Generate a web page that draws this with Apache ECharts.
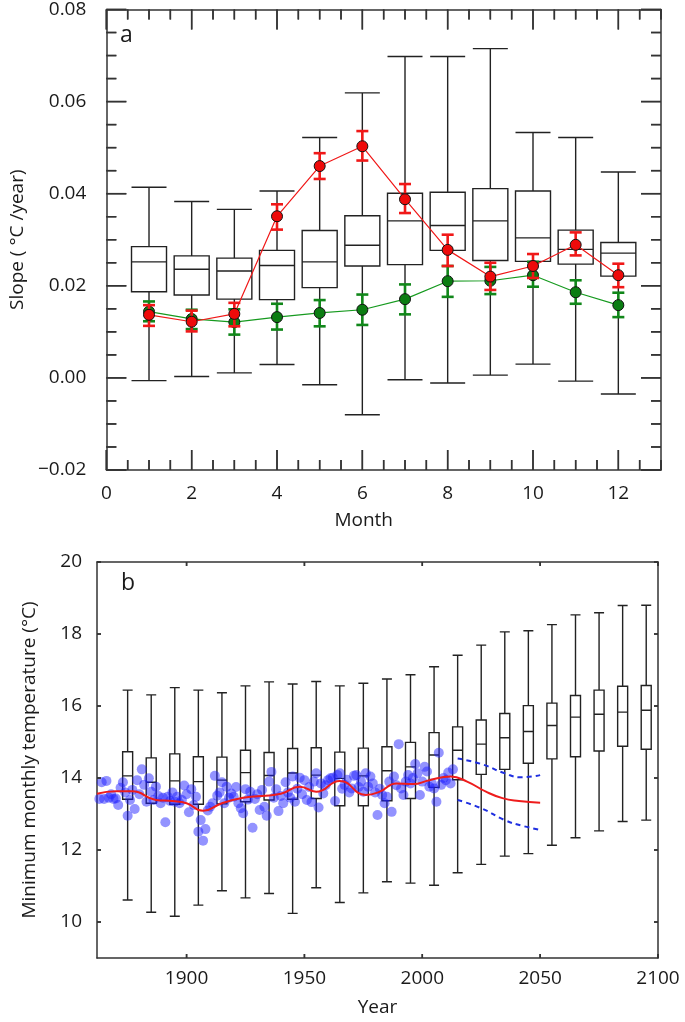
<!DOCTYPE html>
<html>
<head>
<meta charset="utf-8">
<script src="https://cdn.jsdelivr.net/npm/echarts@6/dist/echarts.min.js"></script>
<style>
  html, body { margin: 0; padding: 0; background: #ffffff; }
  #chart { width: 685px; height: 1022px; background: #ffffff; }
</style>
</head>
<body>
<div id="chart"></div>
<script>
// ---- panel a: monthly slopes ----
const months = [1, 2, 3, 4, 5, 6, 7, 8, 9, 10, 11, 12]
const boxMin = [-0.0006, 0.0003, 0.0011, 0.0029, -0.0015, -0.0080, -0.0004, -0.0011, 0.0006, 0.0030, -0.0007, -0.0035]
const boxQ1 = [0.0187, 0.0180, 0.0171, 0.0170, 0.0196, 0.0243, 0.0246, 0.0277, 0.0255, 0.0253, 0.0247, 0.0221]
const boxMed = [0.0252, 0.0236, 0.0232, 0.0244, 0.0252, 0.0288, 0.0341, 0.0331, 0.0341, 0.0304, 0.0279, 0.0271]
const boxQ3 = [0.0285, 0.0265, 0.0260, 0.0277, 0.0320, 0.0352, 0.0401, 0.0403, 0.0411, 0.0406, 0.0321, 0.0294]
const boxMax = [0.0414, 0.0383, 0.0366, 0.0406, 0.0522, 0.0619, 0.0698, 0.0698, 0.0715, 0.0533, 0.0522, 0.0447]

const redSlope = [0.0137, 0.0122, 0.0139, 0.0351, 0.0460, 0.0503, 0.0388, 0.0278, 0.0220, 0.0243, 0.0289, 0.0223]
const redLow = [0.0113, 0.0101, 0.0112, 0.0322, 0.0432, 0.0472, 0.0358, 0.0243, 0.0191, 0.0217, 0.0266, 0.0197]
const redHigh = [0.0158, 0.0146, 0.0163, 0.0377, 0.0488, 0.0536, 0.0421, 0.0311, 0.0250, 0.0269, 0.0316, 0.0248]
const greenSlope = [0.0144, 0.0128, 0.0121, 0.0132, 0.0141, 0.0148, 0.0171, 0.0210, 0.0211, 0.0223, 0.0186, 0.0158]
const greenLow = [0.0123, 0.0106, 0.0094, 0.0105, 0.0112, 0.0115, 0.0138, 0.0176, 0.0182, 0.0198, 0.0161, 0.0132]
const greenHigh = [0.0166, 0.0148, 0.0149, 0.0161, 0.0169, 0.0181, 0.0203, 0.0243, 0.0241, 0.0252, 0.0212, 0.0185]

const monthTicks = [0, 2, 4, 6, 8, 10, 12]
const monthMinor = [1, 3, 5, 7, 9, 11, 13, 0.5, 1.5, 2.5, 3.5, 4.5, 5.5, 6.5, 7.5, 8.5, 9.5, 10.5, 11.5, 12.5]
const slopeTicks = [-0.02, 0, 0.02, 0.04, 0.06, 0.08]
const slopeMinor = [-0.015, -0.01, -0.005, 0.005, 0.01, 0.015, 0.025, 0.03, 0.035, 0.045, 0.05, 0.055,
  0.065, 0.07, 0.075]

// ---- panel b: minimum monthly temperature ----
const boxYears = [1875, 1885, 1895, 1905, 1915, 1925, 1935, 1945, 1955, 1965, 1975, 1985,
  1995, 2005, 2015, 2025, 2035, 2045, 2055, 2065, 2075, 2085, 2095]
const tMin = [10.61, 10.27, 10.16, 10.47, 10.87, 10.67, 10.79, 10.24, 10.95, 10.54, 10.81, 11.12,
  11.08, 11.02, 11.37, 11.60, 11.83, 11.90, 12.13, 12.34, 12.53, 12.79, 12.83]
const tQ1 = [13.41, 13.30, 13.27, 13.27, 13.28, 13.34, 13.39, 13.41, 13.43, 13.23, 13.23, 13.37,
  13.43, 13.74, 13.95, 14.10, 14.24, 14.41, 14.53, 14.59, 14.75, 14.88, 14.80]
const tMed = [14.06, 13.88, 13.92, 13.90, 13.94, 14.15, 14.07, 14.14, 14.08, 13.99, 14.06, 14.20,
  14.31, 14.64, 14.77, 14.94, 15.12, 15.29, 15.46, 15.69, 15.77, 15.83, 15.88]
const tQ3 = [14.73, 14.56, 14.67, 14.59, 14.58, 14.77, 14.71, 14.82, 14.84, 14.72, 14.83, 14.87,
  14.99, 15.26, 15.42, 15.61, 15.79, 16.01, 16.08, 16.29, 16.44, 16.55, 16.57]
const tMax = [16.44, 16.31, 16.51, 16.44, 16.37, 16.56, 16.67, 16.61, 16.68, 16.56, 16.63, 16.75,
  16.87, 17.09, 17.41, 17.69, 18.06, 18.09, 18.26, 18.53, 18.59, 18.79, 18.80]

const obsYears = [
  1863, 1864, 1865, 1866, 1867, 1868, 1869, 1870, 1871, 1872, 1873, 1874, 1875, 1876, 1877, 1878, 1879, 1880,
  1881, 1882, 1883, 1884, 1885, 1886, 1887, 1888, 1889, 1890, 1891, 1892, 1893, 1894, 1895, 1896, 1897, 1898,
  1899, 1900, 1901, 1902, 1903, 1904, 1905, 1906, 1907, 1908, 1909, 1910, 1911, 1912, 1913, 1914, 1915, 1916,
  1917, 1918, 1919, 1920, 1921, 1922, 1923, 1924, 1925, 1926, 1927, 1928, 1929, 1930, 1931, 1932, 1933, 1934,
  1935, 1936, 1937, 1938, 1939, 1940, 1941, 1942, 1943, 1944, 1945, 1946, 1947, 1948, 1949, 1950, 1951, 1952,
  1953, 1954, 1955, 1956, 1957, 1958, 1959, 1960, 1961, 1962, 1963, 1964, 1965, 1966, 1967, 1968, 1969, 1970,
  1971, 1972, 1973, 1974, 1975, 1976, 1977, 1978, 1979, 1980, 1981, 1982, 1983, 1984, 1985, 1986, 1987, 1988,
  1989, 1990, 1991, 1992, 1993, 1994, 1995, 1996, 1997, 1998, 1999, 2000, 2001, 2002, 2003, 2004, 2005, 2006,
  2007, 2008, 2009, 2010, 2011, 2012, 2013]
const obsTemp = [
  13.42, 13.88, 13.42, 13.92, 13.45, 13.55, 13.42, 13.43, 13.25, 13.73, 13.88, 13.60, 12.95, 13.39, 13.67, 13.14, 13.94, 13.55,
  14.24, 13.81, 13.34, 13.99, 13.62, 13.39, 13.76, 13.50, 13.30, 13.45, 12.77, 13.48, 13.36, 13.60, 13.34, 13.48, 13.30, 13.39,
  13.79, 13.55, 13.05, 13.69, 13.25, 13.48, 12.51, 12.83, 12.26, 12.58, 13.10, 13.20, 13.30, 14.06, 13.51, 13.60, 13.88, 13.30,
  13.76, 13.45, 13.57, 13.48, 13.75, 13.30, 13.16, 13.02, 13.69, 13.40, 13.62, 12.62, 13.42, 13.55, 13.11, 13.67, 13.20, 12.95,
  13.90, 14.17, 13.45, 13.69, 13.08, 13.50, 13.30, 13.88, 13.60, 13.45, 14.04, 13.34, 13.70, 14.01, 13.55, 13.94, 13.39, 13.75,
  13.33, 13.90, 14.13, 13.18, 13.85, 13.57, 13.80, 13.94, 13.99, 14.01, 13.36, 14.08, 14.13, 13.70, 13.81, 13.95, 13.60, 13.71,
  14.06, 14.08, 13.75, 13.90, 13.62, 14.13, 13.76, 14.04, 13.85, 13.60, 12.97, 13.70, 13.53, 13.30, 13.48, 13.90, 13.06, 14.04,
  13.80, 14.94, 13.71, 13.53, 13.90, 14.08, 13.85, 14.00, 14.39, 14.13, 13.53, 13.90, 14.31, 14.18, 13.76, 13.85, 13.71, 13.34,
  14.70, 13.81, 14.00, 13.94, 14.15, 13.85, 14.24]

const smoothYears = [1862, 1870, 1877, 1887, 1894, 1900, 1907, 1915, 1924, 1932, 1940, 1948, 1955,
  1965, 1976, 1982, 1989, 1996, 2003, 2012, 2019, 2027, 2034, 2041, 2050]
const smoothTemp = [13.56, 13.63, 13.63, 13.39, 13.36, 13.30, 13.09, 13.30, 13.45, 13.50, 13.56, 13.76, 13.62,
  13.92, 13.53, 13.62, 13.85, 13.83, 13.94, 14.04, 13.90, 13.62, 13.44, 13.36, 13.31]
const bandYears = [2015, 2025, 2035, 2042, 2050]
const bandUpper = [14.54, 14.39, 14.13, 14.02, 14.08]
const bandLower = [13.39, 13.16, 12.83, 12.68, 12.56]

const yearTicks = [1900, 1950, 2000, 2050, 2100]
const tempTicks = [10, 12, 14, 16, 18, 20]

const FONT = 'Open Sans'
const INK = '#1a1a1a'
const FRAME = '#333333'

// inward tick marks on both opposite frame sides, per grid
const tickSpec = [
  { grid: 0, xr: [0, 13], yr: [-0.02, 0.08], xs: monthTicks, ys: slopeTicks, len: 20 },
  { grid: 0, xr: [0, 13], yr: [-0.02, 0.08], xs: monthMinor, ys: slopeMinor, len: 10 },
  { grid: 1, xr: [1862, 2100], yr: [9, 20], xs: yearTicks, ys: tempTicks, len: 4 }
]

const chart = echarts.init(document.getElementById('chart'))

function errorBar(params, api) {
  const x = api.value(0)
  const lo = api.coord([x, api.value(1)])
  const hi = api.coord([x, api.value(2)])
  const w = 6
  const style = { stroke: api.visual('color'), lineWidth: 2.6 }
  return {
    type: 'group',
    children: [
      { type: 'line', shape: { x1: lo[0], y1: lo[1], x2: hi[0], y2: hi[1] }, style: style },
      { type: 'line', shape: { x1: lo[0] - w, y1: lo[1], x2: lo[0] + w, y2: lo[1] }, style: style },
      { type: 'line', shape: { x1: hi[0] - w, y1: hi[1], x2: hi[0] + w, y2: hi[1] }, style: style }
    ]
  }
}

// x ticks: item [x, yMin, yMax]; y ticks: item [xMin, y, xMax]
function makeTick(vertical, len) {
  return function (params, api) {
    const style = { stroke: api.visual('color'), lineWidth: 1.5 }
    let a, b
    if (vertical) {
      const p = api.coord([api.value(0), api.value(1)])
      const q = api.coord([api.value(0), api.value(2)])
      a = { x1: p[0], y1: p[1], x2: p[0], y2: p[1] - len }
      b = { x1: q[0], y1: q[1], x2: q[0], y2: q[1] + len }
    } else {
      const p = api.coord([api.value(0), api.value(1)])
      const q = api.coord([api.value(2), api.value(1)])
      a = { x1: p[0], y1: p[1], x2: p[0] + len, y2: p[1] }
      b = { x1: q[0], y1: q[1], x2: q[0] - len, y2: q[1] }
    }
    return {
      type: 'group',
      children: [
        { type: 'line', shape: a, style: style },
        { type: 'line', shape: b, style: style }
      ]
    }
  }
}

const tickSeries = []
tickSpec.forEach(function (t) {
  const ax = t.grid === 0 ? 0 : 2
  tickSeries.push({
    type: 'custom', xAxisIndex: ax, yAxisIndex: ax, z: 10, silent: true,
    itemStyle: { color: FRAME }, renderItem: makeTick(true, t.len),
    data: t.xs.map(v => [v, t.yr[0], t.yr[1]])
  })
  tickSeries.push({
    type: 'custom', xAxisIndex: ax, yAxisIndex: ax, z: 10, silent: true,
    itemStyle: { color: FRAME }, renderItem: makeTick(false, t.len),
    data: t.ys.map(v => [t.xr[0], v, t.xr[1]])
  })
})

const labelStyle = { fontFamily: FONT, fontSize: 19, color: INK }

// frame axis: line only, labels optional; ticks come from the tick series
function frameAxis(o) {
  const a = {
    type: 'value', gridIndex: o.grid, position: o.pos, min: o.min, max: o.max,
    axisLine: { show: true, onZero: false, lineStyle: { color: FRAME, width: 1.5 } },
    axisTick: { show: false },
    axisLabel: { show: false },
    splitLine: { show: false }
  }
  if (o.interval) a.interval = o.interval
  if (o.labels) {
    a.axisLabel = Object.assign({ show: true, margin: o.margin, customValues: o.labels, formatter: o.fmt }, labelStyle)
  }
  if (o.name) {
    a.name = o.name
    a.nameLocation = 'middle'
    a.nameGap = o.gap
    a.nameTextStyle = Object.assign({}, labelStyle, o.namePad ? { padding: o.namePad } : {})
  }
  return a
}

const slopeFmt = function (v) { return v.toFixed(2).replace('-', '\u2212') }
const plainFmt = function (v) { return String(v) }

chart.setOption({
  animation: false,
  title: [
    { text: 'a', left: 115, top: 19, textStyle: { fontFamily: FONT, fontSize: 23, fontWeight: 'normal', color: INK } },
    { text: 'b', left: 116, top: 567, textStyle: { fontFamily: FONT, fontSize: 23, fontWeight: 'normal', color: INK } }
  ],
  grid: [
    { left: 99, top: 5, width: 562, height: 465 },
    { left: 97, top: 562, width: 561, height: 396 }
  ],
  xAxis: [
    frameAxis({ grid: 0, pos: 'bottom', min: 0, max: 13, interval: 1, labels: monthTicks, margin: 14,
      fmt: plainFmt, name: 'Month', gap: 41, namePad: [0, 40, 0, 0] }),
    frameAxis({ grid: 0, pos: 'top', min: 0, max: 13, interval: 1 }),
    frameAxis({ grid: 1, pos: 'bottom', min: 1862, max: 2100, labels: yearTicks, margin: 11,
      fmt: plainFmt, name: 'Year', gap: 40 }),
    frameAxis({ grid: 1, pos: 'top', min: 1862, max: 2100 })
  ],
  yAxis: [
    frameAxis({ grid: 0, pos: 'left', min: -0.02, max: 0.08, interval: 0.02, labels: slopeTicks, margin: 20,
      fmt: slopeFmt, name: 'Slope ( \u00b0C /year)', gap: 72 }),
    frameAxis({ grid: 0, pos: 'right', min: -0.02, max: 0.08, interval: 0.02 }),
    frameAxis({ grid: 1, pos: 'left', min: 9, max: 20, labels: tempTicks, margin: 15,
      fmt: plainFmt, name: 'Minimum monthly temperature (\u00b0C)', gap: 58 }),
    frameAxis({ grid: 1, pos: 'right', min: 9, max: 20 })
  ],
  series: [
    {
      type: 'boxplot', xAxisIndex: 0, yAxisIndex: 0, z: 2, silent: true,
      boxWidth: [35, 35],
      itemStyle: { color: '#ffffff', borderColor: '#222222', borderWidth: 1.4 },
      data: months.map((m, i) => [m, boxMin[i], boxQ1[i], boxMed[i], boxQ3[i], boxMax[i]])
    },
    {
      type: 'custom', xAxisIndex: 0, yAxisIndex: 0, z: 3, silent: true,
      itemStyle: { color: '#11871a' },
      renderItem: errorBar,
      data: months.map((m, i) => [m, greenLow[i], greenHigh[i]])
    },
    {
      type: 'line', xAxisIndex: 0, yAxisIndex: 0, z: 4, silent: true,
      symbol: 'circle', symbolSize: 11,
      lineStyle: { color: '#169a1f', width: 1.2 },
      itemStyle: { color: '#0b7d12', borderColor: '#111111', borderWidth: 1 },
      data: months.map((m, i) => [m, greenSlope[i]])
    },
    {
      type: 'custom', xAxisIndex: 0, yAxisIndex: 0, z: 5, silent: true,
      itemStyle: { color: '#f01818' },
      renderItem: errorBar,
      data: months.map((m, i) => [m, redLow[i], redHigh[i]])
    },
    {
      type: 'line', xAxisIndex: 0, yAxisIndex: 0, z: 6, silent: true,
      symbol: 'circle', symbolSize: 11,
      lineStyle: { color: '#f01818', width: 1.2 },
      itemStyle: { color: '#ee0a0a', borderColor: '#111111', borderWidth: 1 },
      data: months.map((m, i) => [m, redSlope[i]])
    },
    {
      type: 'boxplot', xAxisIndex: 2, yAxisIndex: 2, z: 2, silent: true,
      boxWidth: [10, 10],
      itemStyle: { color: '#ffffff', borderColor: '#222222', borderWidth: 1.4 },
      data: boxYears.map((y, i) => [y, tMin[i], tQ1[i], tMed[i], tQ3[i], tMax[i]])
    },
    {
      type: 'scatter', xAxisIndex: 2, yAxisIndex: 2, z: 3, silent: true,
      symbolSize: 10,
      itemStyle: { color: 'rgba(30, 30, 255, 0.6)' },
      data: obsYears.map((y, i) => [y, obsTemp[i]])
    },
    {
      type: 'line', xAxisIndex: 2, yAxisIndex: 2, z: 4, silent: true,
      showSymbol: false, smooth: 0.5,
      lineStyle: { color: '#ee1c1c', width: 2 },
      data: smoothYears.map((y, i) => [y, smoothTemp[i]])
    },
    {
      type: 'line', xAxisIndex: 2, yAxisIndex: 2, z: 4, silent: true,
      showSymbol: false, smooth: 0.5,
      lineStyle: { color: '#1f2fe0', width: 2, type: [5, 4] },
      data: bandYears.map((y, i) => [y, bandUpper[i]])
    },
    {
      type: 'line', xAxisIndex: 2, yAxisIndex: 2, z: 4, silent: true,
      showSymbol: false, smooth: 0.5,
      lineStyle: { color: '#1f2fe0', width: 2, type: [5, 4] },
      data: bandYears.map((y, i) => [y, bandLower[i]])
    }
  ].concat(tickSeries)
})

// backup: the same ticks as graphic lines, placed through the grids' own scales
try {
  const els = []
  const st = { stroke: FRAME, lineWidth: 1.5 }
  tickSpec.forEach(function (t) {
    t.xs.forEach(function (v) {
      const p = chart.convertToPixel({ gridIndex: t.grid }, [v, t.yr[0]])
      const q = chart.convertToPixel({ gridIndex: t.grid }, [v, t.yr[1]])
      els.push({ type: 'line', silent: true, z: 100, shape: { x1: p[0], y1: p[1], x2: p[0], y2: p[1] - t.len }, style: st })
      els.push({ type: 'line', silent: true, z: 100, shape: { x1: q[0], y1: q[1], x2: q[0], y2: q[1] + t.len }, style: st })
    })
    t.ys.forEach(function (v) {
      const p = chart.convertToPixel({ gridIndex: t.grid }, [t.xr[0], v])
      const q = chart.convertToPixel({ gridIndex: t.grid }, [t.xr[1], v])
      els.push({ type: 'line', silent: true, z: 100, shape: { x1: p[0], y1: p[1], x2: p[0] + t.len, y2: p[1] }, style: st })
      els.push({ type: 'line', silent: true, z: 100, shape: { x1: q[0], y1: q[1], x2: q[0] - t.len, y2: q[1] }, style: st })
    })
  })
  chart.setOption({ graphic: { elements: els } })
} catch (e) {
  console.log(e)
}
</script>
</body>
</html>
